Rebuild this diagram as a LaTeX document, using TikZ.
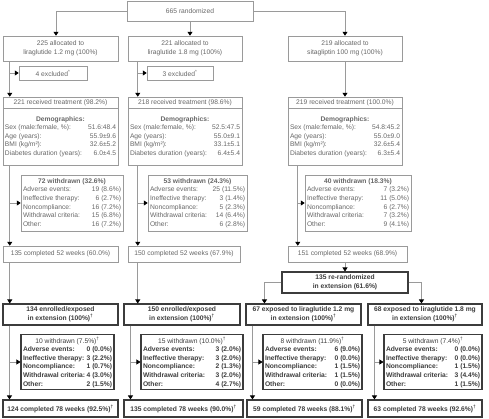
\documentclass[tikz,border=0pt]{standalone}
\usepackage{fontspec}
\setmainfont{Liberation Sans}
\usepackage{tikz}
\usetikzlibrary{arrows.meta}
\usetikzlibrary{calc}
\definecolor{linegray}{HTML}{9A9A9A}
\definecolor{textgray}{HTML}{666666}
\definecolor{darkline}{HTML}{3C3C3C}
\newcommand{\fsz}{\fontsize{6.7}{8.6}\selectfont}
\newcommand{\rw}[3]{\makebox[#1]{#2\hfill #3}}
\newcommand{\dg}{\textsuperscript{\textdagger}}
\tikzset{
    sz/.style 2 args={minimum width=#1pt,minimum height=#2pt},
    gbox/.style={draw=linegray,line width=0.5pt,text=textgray,inner sep=0pt,align=center,font=\fsz},
    bbox/.style={draw=darkline,line width=1.1pt,text=darkline,inner sep=0pt,align=center,font=\fsz\bfseries},
    conn/.style={draw=linegray,line width=0.6pt},
    toarr/.style={-{Triangle[length=4pt,width=5pt,color=black]}}
}

\begin{document}
\begin{tikzpicture}[x=1pt,y=-1pt]
\useasboundingbox (0,0) rectangle (489,418);
\node[gbox,sz={126}{20}] (rand) at (190,11) {665 randomized};
\foreach \n/\xx/\ww/\tx in {1/60.5/115/{225 allocated to\\liraglutide 1.2 mg (100\%)}, 2/185/114/{221 allocated to\\liraglutide 1.8 mg (100\%)}, 3/345/114/{219 allocated to\\sitagliptin 100 mg (100\%)}}{
    \node[gbox,sz={\ww}{25}] (alloc\n) at (\xx,48.5) {\tx};
}
\foreach \n/\xx/\ww/\tx in {1/53/68/4, 2/180/66/3}{
    \node[gbox,sz={\ww}{14}] (excl\n) at (\xx,73) {\tx{} excluded\textsuperscript{*}};
}
\foreach \n/\xx/\ww/\hd/\vs/\va/\vb/\vd in {1/60.5/115/{221 received treatment (98.2\%)}/51.6:48.4/55.9±9.6/32.6±5.2/6.0±4.5, 2/185/114/{218 received treatment (98.6\%)}/52.5:47.5/55.0±9.1/33.1±5.1/6.4±5.4, 3/345/114/{219 received treatment (100.0\%)}/54.8:45.2/55.0±9.0/32.6±5.4/6.3±5.4}{
    \node[gbox,sz={\ww}{11}] (recv\n) at (\xx,102.5) {\hd};
    \node[gbox,sz={\ww}{57}] (demo\n) at (\xx,136.5) {\textbf{Demographics:}\\
        \rw{\dimexpr\ww pt-4pt\relax}{Sex (male:female, \%):}{\vs}\\
        \rw{\dimexpr\ww pt-4pt\relax}{Age (years):}{\va}\\
        \rw{\dimexpr\ww pt-4pt\relax}{BMI (kg/m²):}{\vb}\\
        \rw{\dimexpr\ww pt-4pt\relax}{Diabetes duration (years):}{\vd}};
}
\foreach \n/\xx/\ww/\hd/\va/\vb/\vc/\vd/\ve in {1/72/102/{72 withdrawn (32.6\%)}/{19 (8.6\%)}/{6 (2.7\%)}/{16 (7.2\%)}/{15 (6.8\%)}/{16 (7.2\%)}, 2/197.5/99/{53 withdrawn (24.3\%)}/{25 (11.5\%)}/{3 (1.4\%)}/{5 (2.3\%)}/{14 (6.4\%)}/{6 (2.8\%)}, 3/358/106/{40 withdrawn (18.3\%)}/{7 (3.2\%)}/{11 (5.0\%)}/{6 (2.7\%)}/{7 (3.2\%)}/{9 (4.1\%)}}{
    \node[gbox,sz={\ww}{56}] (wd\n) at (\xx,203) {\textbf{\hd}\\
        \rw{\dimexpr\ww pt-4pt\relax}{Adverse events:}{\va}\\
        \rw{\dimexpr\ww pt-4pt\relax}{Ineffective therapy:}{\vb}\\
        \rw{\dimexpr\ww pt-4pt\relax}{Noncompliance:}{\vc}\\
        \rw{\dimexpr\ww pt-4pt\relax}{Withdrawal criteria:}{\vd}\\
        \rw{\dimexpr\ww pt-4pt\relax}{Other:}{\ve}};
}
\foreach \n/\xx/\ww/\tx in {1/60.5/115/{135 completed 52 weeks (60.0\%)}, 2/184/112/{150 completed 52 weeks (67.9\%)}, 3/347.5/119/{151 completed 52 weeks (68.9\%)}}{
    \node[gbox,sz={\ww}{16}] (wk\n) at (\xx,254) {\tx};
}
\node[bbox,sz={126}{21}] (rerand) at (345,282.5) {135 re-randomized\\in extension (61.6\%)};
\foreach \n/\xx/\ww/\tx in {1/60.5/115/{134 enrolled/exposed}, 2/182/116/{150 enrolled/exposed}, 3/303.5/115/{67 exposed to liraglutide 1.2 mg}, 4/425/114/{68 exposed to liraglutide 1.8 mg}}{
    \node[bbox,sz={\ww}{21}] (ext\n) at (\xx,314.5) {\tx\\in extension (100\%)\dg};
}
\foreach \n/\xx/\ww/\hd/\va/\vb/\vc/\vd/\ve in {1/67.5/93/{10 withdrawn (7.5\%)}/{0 (0.0\%)}/{3 (2.2\%)}/{1 (0.7\%)}/{4 (3.0\%)}/{2 (1.5\%)}, 2/192/102/{15 withdrawn (10.0\%)}/{3 (2.0\%)}/{3 (2.0\%)}/{2 (1.3\%)}/{3 (2.0\%)}/{4 (2.7\%)}, 3/312.5/99/{8 withdrawn (11.9\%)}/{6 (9.0\%)}/{0 (0.0\%)}/{1 (1.5\%)}/{1 (1.5\%)}/{0 (0.0\%)}, 4/433/98/{5 withdrawn (7.4\%)}/{0 (0.0\%)}/{0 (0.0\%)}/{1 (1.5\%)}/{3 (4.4\%)}/{1 (1.5\%)}}{
    \node[bbox,sz={\ww}{55}] (lw\n) at (\xx,362) {{\mdseries\hd\dg}\\
        \rw{\dimexpr\ww pt-4pt\relax}{Adverse events:}{\va}\\
        \rw{\dimexpr\ww pt-4pt\relax}{Ineffective therapy:}{\vb}\\
        \rw{\dimexpr\ww pt-4pt\relax}{Noncompliance:}{\vc}\\
        \rw{\dimexpr\ww pt-4pt\relax}{Withdrawal criteria:}{\vd}\\
        \rw{\dimexpr\ww pt-4pt\relax}{Other:}{\ve}};
}
\foreach \n/\xx/\ww/\tx in {1/60.5/115/{124 completed 78 weeks (92.5\%)}, 2/183.5/119/{135 completed 78 weeks (90.0\%)}, 3/304.5/115/{59 completed 78 weeks (88.1\%)}, 4/425/114/{63 completed 78 weeks (92.6\%)}}{
    \node[bbox,sz={\ww}{17}] (fin\n) at (\xx,408.5) {\tx\dg};
}
\draw[conn,toarr] (rand.west) -| ([xshift=-4.5pt]alloc1.north);
\draw[conn,toarr] (rand.south) -- (rand.south |- alloc2.north);
\draw[conn,toarr] (rand.east) -| (alloc3.north);
\draw[conn,toarr] (alloc3.south) -- (recv3.north);
\foreach \src/\dst/\sd/\sh in {alloc1/recv1/excl1/7, alloc2/recv2/excl2/10, demo1/wk1/wd1/7, demo2/wk2/wd2/10, demo3/wk3/wd3/10, ext1/fin1/lw1/7, ext2/fin2/lw2/7, ext3/fin3/lw3/7, ext4/fin4/lw4/7}{
    \coordinate (k) at ([xshift=\sh pt]\src.south west);
    \draw[conn,toarr] (k) -- (k |- \dst.north);
    \draw[conn,toarr] (k |- \sd.west) -- (\sd.west);
}
\draw[conn,toarr] ([xshift=7pt]wk1.south west) -- ([xshift=7pt]wk1.south west |- ext1.north);
\draw[conn,toarr] ([xshift=10pt]wk2.south west) -- ([xshift=10pt]wk2.south west |- ext2.north);
\draw[conn,toarr] (wk3.south -| rerand.north) -- (rerand.north);
\draw[conn,toarr] (rerand.west) -| ([xshift=19pt]ext3.north west);
\draw[conn,toarr] (rerand.east) -| ([xshift=54pt]ext4.north west);
\end{tikzpicture}
\end{document}
